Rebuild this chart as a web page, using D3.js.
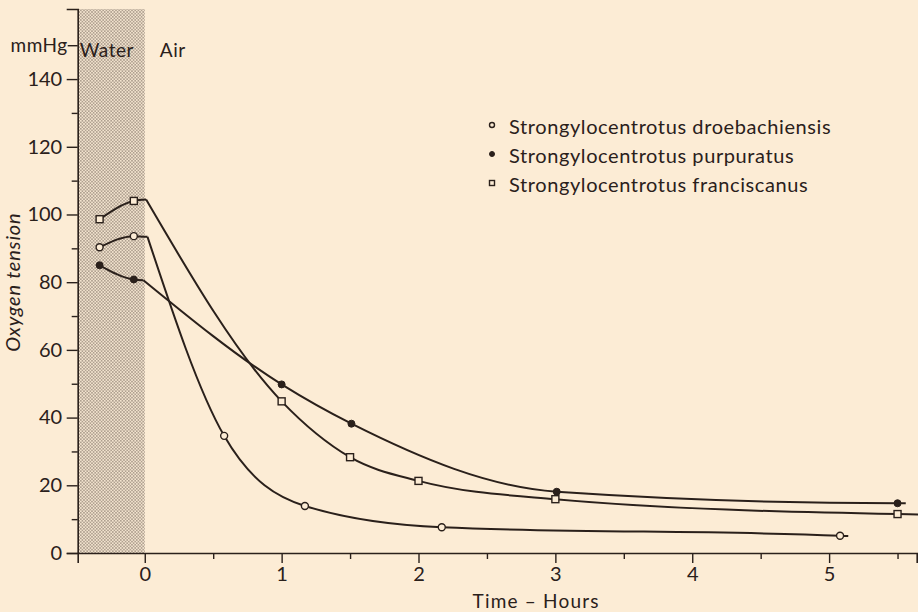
<!DOCTYPE html>
<html>
<head>
<meta charset="utf-8">
<script src="https://cdn.jsdelivr.net/npm/d3@7/dist/d3.min.js"></script>
<style>
  html, body { margin: 0; padding: 0; background: #fcecd5; }
  svg { display: block; }
  text { font-family: Lato, "DejaVu Sans", sans-serif; fill: #2a201b; }
</style>
</head>
<body>
<svg id="chart" width="918" height="612"></svg>
<script>
// ---- Data (hours, mmHg) ----
const xMajorTicks = [0, 1, 2, 3, 4, 5];
const xMinorTicks = [0.5, 1.5, 2.5, 3.5, 4.5, 5.5];
const yMajorTicks = [0, 20, 40, 60, 80, 100, 120, 140];
const yMinorTicks = [10, 30, 50, 70, 90, 110, 130];

const seriesNames = [
  "Strongylocentrotus droebachiensis",
  "Strongylocentrotus purpuratus",
  "Strongylocentrotus franciscanus"
];
const seriesSymbols = ["open-circle", "filled-circle", "open-square"];

// measured points in water (before emersion)
const droebWaterT = [-0.33, -0.08];
const droebWaterV = [90.3, 93.6];
const purpWaterT  = [-0.33, -0.08];
const purpWaterV  = [85.0, 80.8];
const franWaterT  = [-0.33, -0.08];
const franWaterV  = [98.6, 104.0];

// measured points in air
const droebAirT = [0.58, 1.17, 2.17, 5.08];
const droebAirV = [34.6, 13.9, 7.6, 5.1];
const purpAirT  = [1.0, 1.51, 3.01, 5.5];
const purpAirV  = [49.8, 38.2, 18.1, 14.7];
const franAirT  = [1.0, 1.5, 2.0, 3.0, 5.5];
const franAirV  = [44.8, 28.3, 21.3, 15.9, 11.5];

// where each drawn curve bends at emersion, and where it ends
const kneeT = [0.02, -0.01, 0.01];
const kneeV = [93.4, 80.6, 104.4];
const endT  = [5.14, 5.56, 5.65];
const endV  = [5.0, 14.7, 11.4];

const waterT = [droebWaterT, purpWaterT, franWaterT];
const waterV = [droebWaterV, purpWaterV, franWaterV];
const airT = [droebAirT, purpAirT, franAirT];
const airV = [droebAirV, purpAirV, franAirV];

// ---- Drawing ----
const ink = "#2a201b";
const bg = "#fcecd5";
const svg = d3.select("#chart");

const x = d3.scaleLinear().domain([-0.49, 5.64]).range([77.7, 916.7]);
const y = d3.scaleLinear().domain([0, 160.7]).range([553, 9]);

// stipple pattern for the "Water" period
const defs = svg.append("defs");
const pat = defs.append("pattern").attr("id", "stipple")
  .attr("patternUnits", "userSpaceOnUse").attr("width", 3.2).attr("height", 3.2);
pat.append("rect").attr("width", 3.2).attr("height", 3.2).attr("fill", "#f3e4cf");
pat.append("circle").attr("cx", 0.8).attr("cy", 0.8).attr("r", 0.62).attr("fill", "#4a3b32");
pat.append("circle").attr("cx", 2.4).attr("cy", 2.4).attr("r", 0.62).attr("fill", "#4a3b32");

svg.append("rect")
  .attr("x", x(-0.49)).attr("y", y(160.7))
  .attr("width", x(0) - x(-0.49)).attr("height", y(0) - y(160.7))
  .attr("fill", "url(#stipple)");

// axes
function styleAxis(g) {
  g.selectAll("path.domain").attr("stroke", ink).attr("stroke-width", 1.6);
  g.selectAll(".tick line").attr("stroke", ink).attr("stroke-width", 1.4);
  g.selectAll(".tick text").attr("fill", ink)
    .style("font-family", "Lato, 'DejaVu Sans', sans-serif").style("font-size", "20px");
}

const gx = svg.append("g").attr("transform", `translate(0,${y(0)})`)
  .call(d3.axisBottom(x).tickValues(xMajorTicks).tickSize(10).tickPadding(4).tickFormat(d3.format("d")));
styleAxis(gx);
const gxm = svg.append("g").attr("transform", `translate(0,${y(0)})`)
  .call(d3.axisBottom(x).tickValues(xMinorTicks).tickSize(6).tickFormat(""));
styleAxis(gxm);
gxm.select("path.domain").remove();

const gy = svg.append("g").attr("transform", `translate(${x(-0.49)},0)`)
  .call(d3.axisLeft(y).tickValues(yMajorTicks).tickSize(11).tickPadding(4.5).tickFormat(d3.format("d")));
styleAxis(gy);
const gym = svg.append("g").attr("transform", `translate(${x(-0.49)},0)`)
  .call(d3.axisLeft(y).tickValues(yMinorTicks.concat([150])).tickSize(6).tickFormat(""));
styleAxis(gym);
gym.select("path.domain").remove();
gym.selectAll(".tick").filter(d => d === 150).select("line").attr("x2", -10);

svg.append("text").attr("x", x(-0.49) - 10).attr("y", y(150) + 7)
  .attr("text-anchor", "end").style("font-size", "19px").style("letter-spacing", "0.5px").text("mmHg");

svg.append("text").attr("x", x(-0.475)).attr("y", 57)
  .style("font-size", "19px").style("letter-spacing", "0.5px").text("Water");
svg.append("text").attr("x", x(0.11)).attr("y", 57)
  .style("font-size", "19px").style("letter-spacing", "0.5px").text("Air");

// axis titles
svg.append("text").attr("transform", `translate(20,${(y(60)+y(100))/2}) rotate(-90)`)
  .attr("text-anchor", "middle").style("font-size", "20px").style("font-style", "italic")
  .style("letter-spacing", "0.8px").text("Oxygen tension");
svg.append("text").attr("x", x(2.86)).attr("y", 608)
  .attr("text-anchor", "middle").style("font-size", "19px")
  .style("letter-spacing", "1.2px").text("Time \u2013 Hours");

// curves
const line = d3.line().x(d => x(d[0])).y(d => y(d[1])).curve(d3.curveMonotoneX);
for (let i = 0; i < 3; i++) {
  const wPts = waterT[i].map((t, j) => [t, waterV[i][j]]).concat([[kneeT[i], kneeV[i]]]);
  const aPts = [[kneeT[i], kneeV[i]]].concat(airT[i].map((t, j) => [t, airV[i][j]])).concat([[endT[i], endV[i]]]);
  svg.append("path").attr("d", line(wPts)).attr("fill", "none").attr("stroke", ink).attr("stroke-width", 2);
  svg.append("path").attr("d", line(aPts)).attr("fill", "none").attr("stroke", ink).attr("stroke-width", 2);
}

// markers
function drawMarker(g, sym, cx, cy, s) {
  if (sym === "open-circle") {
    g.append("circle").attr("cx", cx).attr("cy", cy).attr("r", s)
      .attr("fill", bg).attr("stroke", ink).attr("stroke-width", 1.4);
  } else if (sym === "filled-circle") {
    g.append("circle").attr("cx", cx).attr("cy", cy).attr("r", s)
      .attr("fill", ink).attr("stroke", ink).attr("stroke-width", 1);
  } else {
    g.append("rect").attr("x", cx - s).attr("y", cy - s).attr("width", 2 * s).attr("height", 2 * s)
      .attr("fill", bg).attr("stroke", ink).attr("stroke-width", 1.4);
  }
}
const gm = svg.append("g");
for (let i = 0; i < 3; i++) {
  const ts = waterT[i].concat(airT[i]);
  const vs = waterV[i].concat(airV[i]);
  ts.forEach((t, j) => drawMarker(gm, seriesSymbols[i], x(t), y(vs[j]), 3.5));
}

// legend
const legendBase = [134, 163, 192];
seriesNames.forEach((name, i) => {
  drawMarker(svg, seriesSymbols[i], 492, legendBase[i] - 9, 2.5);
  svg.append("text").attr("x", 509).attr("y", legendBase[i])
    .style("font-size", "20px").style("letter-spacing", "0.6px").text(name);
});
</script>
</body>
</html>
